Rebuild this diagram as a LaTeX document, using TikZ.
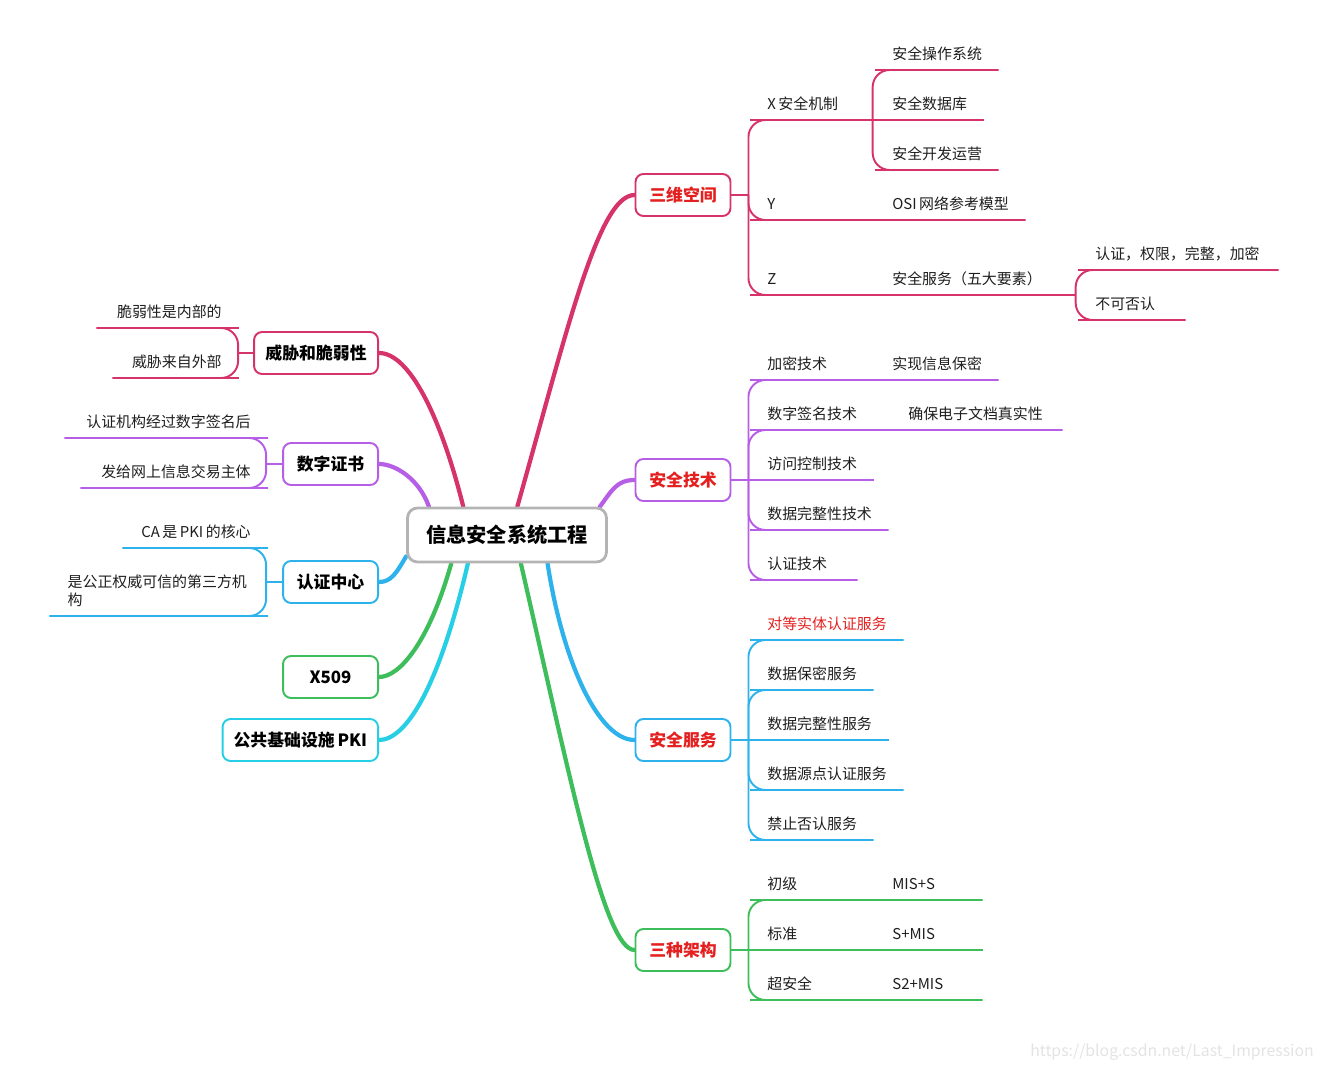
\documentclass[tikz,border=0pt]{standalone}
\usepackage{fontspec}
\setmainfont{Noto Sans CJK SC}
\usepackage{xcolor}
\usepackage{tikz}
\usetikzlibrary{positioning, calc, backgrounds}
\definecolor{crimson}{HTML}{D6336B}
\definecolor{violet}{HTML}{B65FE6}
\definecolor{sky}{HTML}{2DB2EC}
\definecolor{grass}{HTML}{3DBE5B}
\definecolor{aqua}{HTML}{26CFE4}
\definecolor{hubgray}{HTML}{B4B4B4}
\definecolor{alert}{HTML}{E3201F}
\definecolor{ink}{HTML}{1E1E1E}
\newcommand{\leaffont}{\fontsize{8.5}{10.2}\selectfont}
\newcommand{\topicfont}{\fontsize{9.6}{11}\selectfont\bfseries}
\newcommand{\hubfont}{\fontsize{11.5}{13}\selectfont\bfseries}
\tikzset{
  % Central topic
  hub/.style={
    rectangle, rounded corners=0.2cm, draw=hubgray, line width=1.6pt, fill=white,
    minimum width=3.98cm, minimum height=1.08cm, font=\hubfont, text=black
  },
  % Main topics
  topic/.style={
    rectangle, rounded corners=0.16cm, draw=#1, line width=1.1pt, fill=white,
    minimum width=1.9cm, minimum height=0.84cm, inner xsep=0.22cm,
    font=\topicfont, text=black
  },
  topic/.default=crimson,
  % Leaf labels sitting on their underline
  leaf/.style={
    anchor=south west, inner xsep=0pt, inner ysep=6pt, text depth=0pt,
    text width=#1, align=left, font=\leaffont, text=ink
  },
  lleaf/.style={leaf=#1, anchor=south east, align=right},
  % Connectors
  branch/.style={draw=#1, line width=2.4pt, line cap=round},
  twig/.style={draw=#1, line width=1.1pt, rounded corners=0.34cm},
}

\begin{document}
\begin{tikzpicture}[x=0.02cm, y=-0.02cm]
  \useasboundingbox (0,0) rectangle (1328,1070);

  \node[hub] (hub) at (507,535) {信息安全系统工程};

  % right side topics
  \node[topic=crimson, text=alert] (sanwei) at (683,195) {三维空间};
  \node[topic=violet, text=alert] (jishu) at (683,480) {安全技术};
  \node[topic=sky, text=alert] (fuwu) at (683,740) {安全服务};
  \node[topic=grass, text=alert] (jiagou) at (683,950) {三种架构};

  % left side topics
  \node[topic=crimson, anchor=east, minimum width=2.48cm] (weixie) at (379,353) {威胁和脆弱性};
  \node[topic=violet, anchor=east] (zhengshu) at (379,464) {数字证书};
  \node[topic=sky, anchor=east] (zhongxin) at (379,582) {认证中心};
  \node[topic=grass, anchor=east] (xwlj) at (379,677) {X509};
  \node[topic=aqua, anchor=east] (pki) at (379,740) {公共基础设施\,PKI};

  % spine junctions
  \coordinate (ts) at ($(sanwei.east)+(17,0)$);
  \coordinate (tj) at ($(jishu.east)+(17,0)$);
  \coordinate (tf) at ($(fuwu.east)+(17,0)$);
  \coordinate (ta) at ($(jiagou.east)+(17,0)$);
  \coordinate (lw) at ($(weixie.west)+(-15,0)$);
  \coordinate (lz) at ($(zhengshu.west)+(-16,0)$);
  \coordinate (lr) at ($(zhongxin.west)+(-16,0)$);

  % 三维空间
  \node[leaf=2.10cm] (xjz) at (767,120) {X\,安全机制};
  \node[leaf=2.12cm] (czxt) at (892,70) {安全操作系统};
  \node[leaf=1.82cm] (sjk) at (892,120) {安全数据库};
  \node[leaf=2.12cm] (kfyy) at (892,170) {安全开发运营};
  \node[leaf=2.10cm] (yax) at (767,220) {Y};
  \node[leaf=2.66cm] (osi) at (892,220) {OSI\,网络参考模型};
  \node[leaf=2.10cm] (zax) at (767,295) {Z};
  \node[leaf=3.66cm] (wdys) at (892,295) {安全服务（五大要素）};
  \node[leaf=3.66cm] (rqwj) at (1095,270) {认证，权限，完整，加密};
  \node[leaf=1.80cm] (bkfr) at (1095,320) {不可否认};

  % 安全技术
  \node[leaf=2.10cm] (jmjs) at (767,380) {加密技术};
  \node[leaf=2.12cm] (bmxx) at (892,380) {实现信息保密};
  \node[leaf=2.42cm] (qmjs) at (767,430) {数字签名技术};
  \node[leaf=3.08cm] (zsx) at (908,430) {确保电子文档真实性};
  \node[leaf=2.12cm] (fkjs) at (767,480) {访问控制技术};
  \node[leaf=2.42cm] (wzjs) at (767,530) {数据完整性技术};
  \node[leaf=1.80cm] (rzjs) at (767,580) {认证技术};

  % 安全服务
  \node[leaf=2.72cm, text=alert] (ddst) at (767,640) {对等实体认证服务};
  \node[leaf=2.12cm] (bmfw) at (767,690) {数据保密服务};
  \node[leaf=2.42cm] (wzfw) at (767,740) {数据完整性服务};
  \node[leaf=2.72cm] (ydfw) at (767,790) {数据源点认证服务};
  \node[leaf=2.12cm] (jzfw) at (767,840) {禁止否认服务};

  % 三种架构
  \node[leaf=2.10cm] (chuji) at (767,900) {初级};
  \node[leaf=1.80cm] (misa) at (892,900) {MIS+S};
  \node[leaf=2.10cm] (biaozhun) at (767,950) {标准};
  \node[leaf=1.80cm] (misb) at (892,950) {S+MIS};
  \node[leaf=2.10cm] (chaoaq) at (767,1000) {超安全};
  \node[leaf=1.80cm] (misc) at (892,1000) {S2+MIS};

  % left leaves
  \node[lleaf=2.50cm] (cuiruo) at (222,328) {脆弱性是内部的};
  \node[lleaf=2.18cm] (waibu) at (222,378) {威胁来自外部};
  \node[lleaf=3.72cm] (qianming) at (251,438) {认证机构经过数字签名后};
  \node[lleaf=3.40cm] (jiaoyi) at (251,488) {发给网上信息交易主体};
  \node[lleaf=2.56cm] (hexin) at (251,548) {CA\,是\,PKI\,的核心};
  \node[lleaf=3.66cm, align=left, text depth=10.2pt] (disanfang) at (251,616) {是公正权威可信的第三方机\\构};
  \coordinate (disanfang-end) at ($(disanfang.south west)+(-18,0)$);

  \node[anchor=east, font=\fontsize{9}{10}\selectfont, text=gray!22] (mark) at (1320,1052) {https://blog.csdn.net/Last\_Impression};

  % thick branches from the hub
  \begin{scope}[on background layer]
    \draw[branch=crimson] (hub.70) .. controls +(50,-177) and +(-36,0) .. (sanwei.west);
    \draw[branch=violet] (hub.17) .. controls +(12,-16) and +(-18,0) .. (jishu.west);
    \draw[branch=sky] (hub.325) .. controls +(15,98) and +(-36,0) .. (fuwu.west);
    \draw[branch=grass] (hub.296) .. controls +(50,218) and +(-30,0) .. (jiagou.west);
    \draw[branch=crimson] (hub.147) .. controls +(-22,-88) and +(31,0) .. (weixie.east);
    \draw[branch=violet] (hub.160) .. controls +(-10,-28) and +(16,0) .. (zhengshu.east);
    \draw[branch=sky] (hub.192) .. controls +(-10,17) and +(12,0) .. (zhongxin.east);
    \draw[branch=grass] (hub.207) .. controls +(-22,78) and +(21,0) .. (xwlj.east);
    \draw[branch=aqua] (hub.216) .. controls +(-30,128) and +(26,0) .. (pki.east);
  \end{scope}

  % 三维空间 twigs
  \draw[twig=crimson] (sanwei.east) -- (ts);
  \draw[twig=crimson] (ts) |- (xjz.south west) -- (xjz.south east);
  \draw[twig=crimson] (xjz.south east) |- (czxt.south west) -- (czxt.south east);
  \draw[twig=crimson] (xjz.south east) -- (sjk.south east);
  \draw[twig=crimson] (xjz.south east) |- (kfyy.south west) -- (kfyy.south east);
  \draw[twig=crimson] (ts) |- (yax.south west) -- (osi.south east);
  \draw[twig=crimson] (ts) |- (zax.south west) -- (wdys.south east);
  \draw[twig=crimson] (wdys.south east) |- (rqwj.south west) -- (rqwj.south east);
  \draw[twig=crimson] (wdys.south east) |- (bkfr.south west) -- (bkfr.south east);

  % 安全技术 twigs
  \draw[twig=violet] (jishu.east) -- (tj);
  \draw[twig=violet] (tj) |- (jmjs.south west) -- (bmxx.south east);
  \draw[twig=violet] (tj) |- (qmjs.south west) -- (zsx.south east);
  \draw[twig=violet] (tj) -- (fkjs.south west) -- (fkjs.south east);
  \draw[twig=violet] (tj) |- (wzjs.south west) -- (wzjs.south east);
  \draw[twig=violet] (tj) |- (rzjs.south west) -- (rzjs.south east);

  % 安全服务 twigs
  \draw[twig=sky] (fuwu.east) -- (tf);
  \draw[twig=sky] (tf) |- (ddst.south west) -- (ddst.south east);
  \draw[twig=sky] (tf) |- (bmfw.south west) -- (bmfw.south east);
  \draw[twig=sky] (tf) -- (wzfw.south west) -- (wzfw.south east);
  \draw[twig=sky] (tf) |- (ydfw.south west) -- (ydfw.south east);
  \draw[twig=sky] (tf) |- (jzfw.south west) -- (jzfw.south east);

  % 三种架构 twigs
  \draw[twig=grass] (jiagou.east) -- (ta);
  \draw[twig=grass] (ta) |- (chuji.south west) -- (misa.south east);
  \draw[twig=grass] (ta) -- (biaozhun.south west) -- (misb.south east);
  \draw[twig=grass] (ta) |- (chaoaq.south west) -- (misc.south east);

  % left twigs
  \draw[twig=crimson] (weixie.west) -- (lw);
  \draw[twig=crimson] (lw) |- (cuiruo.south east) -- (cuiruo.south west);
  \draw[twig=crimson] (lw) |- (waibu.south east) -- (waibu.south west);
  \draw[twig=violet] (zhengshu.west) -- (lz);
  \draw[twig=violet] (lz) |- (qianming.south east) -- (qianming.south west);
  \draw[twig=violet] (lz) |- (jiaoyi.south east) -- (jiaoyi.south west);
  \draw[twig=sky] (zhongxin.west) -- (lr);
  \draw[twig=sky] (lr) |- (hexin.south east) -- (hexin.south west);
  \draw[twig=sky] (lr) |- (disanfang.south east) -- (disanfang-end);

\end{tikzpicture}
\end{document}
